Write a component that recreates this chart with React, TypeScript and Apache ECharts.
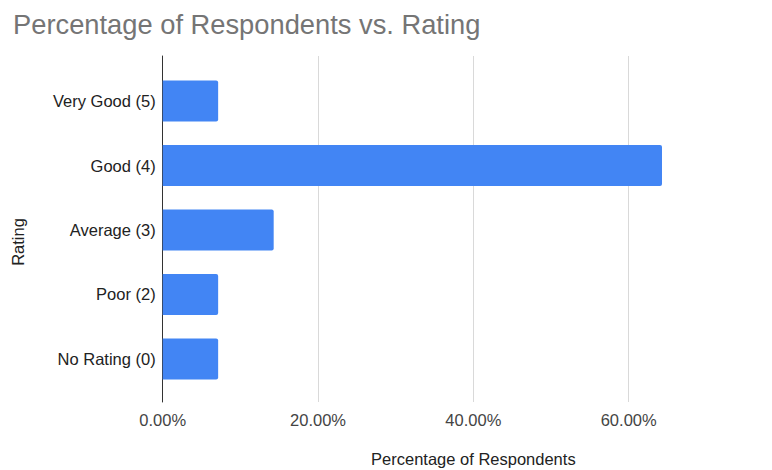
import React, { useEffect, useRef } from "react";
import * as echarts from "echarts";

const categories = ["Very Good (5)", "Good (4)", "Average (3)", "Poor (2)", "No Rating (0)"];
const percentValues = [7.14, 64.29, 14.29, 7.14, 7.14];
const axisTicks = [0, 20, 40, 60, 80];

const FONT = "'Liberation Sans', Arial, sans-serif";
const FS = 16.5;

export default function App() {
  const ref = useRef<HTMLDivElement>(null);
  useEffect(() => {
    if (!ref.current) return;
    const chart = echarts.init(ref.current, undefined, { renderer: "svg" });
    const left = 162.7;
    const width = 621.3;
    const maxTick = axisTicks[axisTicks.length - 1];
    chart.setOption({
      animation: false,
      backgroundColor: "#ffffff",
      textStyle: { fontFamily: FONT },
      title: {
        text: "Percentage of Respondents vs. Rating",
        left: 8,
        top: 6,
        textStyle: { fontFamily: FONT, fontSize: 27.3, fontWeight: "normal", color: "#757575" },
      },
      grid: [
        { left, width, top: 56, bottom: 68, containLabel: false, outerBoundsMode: "none" },
        { left, width, top: 68.8, bottom: 78.8, containLabel: false, outerBoundsMode: "none" },
      ],
      xAxis: [
        {
          type: "value",
          gridIndex: 0,
          min: axisTicks[0],
          max: maxTick,
          interval: 20,
          axisLine: { show: false },
          axisTick: { show: false },
          axisLabel: {
            margin: 9,
            fontSize: FS,
            color: "#444444",
            fontFamily: FONT,
            formatter: (v: number) => (v >= maxTick ? "" : `${v.toFixed(2)}%`),
          },
          splitLine: { show: true, lineStyle: { color: "#d9d9d9", width: 1 } },
          name: "Percentage of Respondents",
          nameLocation: "middle",
          nameGap: 48,
          nameTextStyle: { fontSize: FS, color: "#222222", fontFamily: FONT },
        },
        {
          type: "value",
          gridIndex: 1,
          min: axisTicks[0],
          max: maxTick,
          show: false,
        },
      ],
      yAxis: [
        {
          type: "category",
          gridIndex: 0,
          data: categories,
          inverse: true,
          axisLine: { show: true, lineStyle: { color: "#333333", width: 1 } },
          axisTick: { show: false },
          axisLabel: { show: false },
          splitLine: { show: false },
          name: "Rating",
          nameLocation: "middle",
          nameGap: 136,
          nameRotate: 90,
          nameTextStyle: { fontSize: FS, color: "#222222", fontFamily: FONT, padding: [0, 26, 0, 0] },
        },
        {
          type: "category",
          gridIndex: 1,
          data: categories,
          inverse: true,
          axisLine: { show: false },
          axisTick: { show: false },
          axisLabel: { margin: 7, fontSize: FS, color: "#222222", fontFamily: FONT },
          splitLine: { show: false },
        },
      ],
      series: [
        {
          type: "bar",
          xAxisIndex: 1,
          yAxisIndex: 1,
          data: percentValues,
          barWidth: "63.5%",
          itemStyle: { color: "#4285f4", borderRadius: [0, 2, 2, 0] },
        },
      ],
    });
    return () => chart.dispose();
  }, []);
  return (
    <div
      ref={ref}
      style={{ position: "fixed", left: 0, top: 0, width: 772, height: 470 }}
    />
  );
}
